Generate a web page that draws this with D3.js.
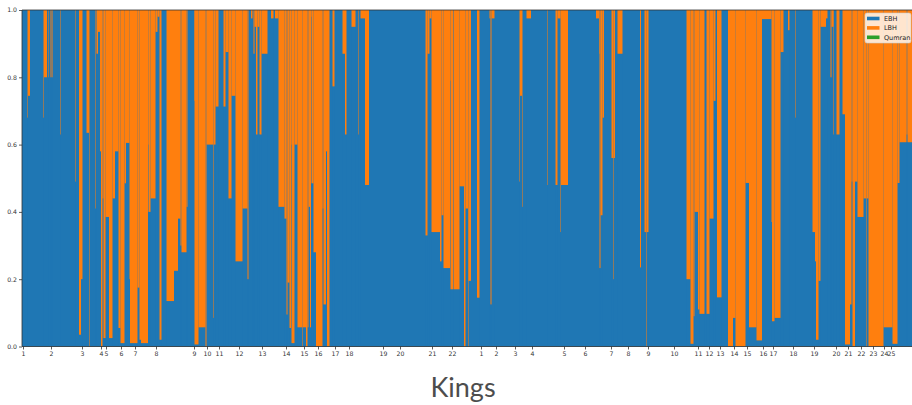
<!DOCTYPE html>
<html>
<head>
<meta charset="utf-8">
<script src="https://cdn.jsdelivr.net/npm/d3@7"></script>
<style>
  body { margin: 0; background: #fff; }
  svg { display: block; }
  .axis text { font-family: "DejaVu Sans", sans-serif; font-size: 6.2px; fill: #333; }
  .axis line { stroke: #333; stroke-width: 0.8; }
  .title { font-family: "Lato", "DejaVu Sans", sans-serif; font-size: 27px; fill: #4d4d4d; }
  .legend text { font-family: "DejaVu Sans", sans-serif; font-size: 6.5px; fill: #222; }
</style>
</head>
<body>
<svg id="chart" width="912" height="405"></svg>
<script>
// segment widths (verse units) along Kings, with the share of each stratum
var widths = [5.5,0.5,2,13,0.5,0.5,3,1,0.5,1.5,0.5,1,1,8,0.5,14,0.5,3.5,
  2,1.5,4,2.5,0.5,5.5,0.5,1,1.5,2,1,1.5,1,2,3.5,3.5,2.5,3.5,2,4,1.5,3.5,
  0.5,7.5,2,1.5,7,0.5,2,5,2,2,2,5,7.5,4,2.5,1,5,1,6.5,0.5,
  4,7,1,7,0.5,1.5,3,5,2,3,3,4,7,5,1,2.5,1.5,1,1,1.5,
  1.5,2,2,6,3.5,2.5,1.5,3.5,6,2,1,2,1.5,0.5,3,3,4.5,0.5,3.5,1.5,
  1,1.5,1,0.5,2,2.5,6.5,1,2.5,1,2.5,3,2,8,2.5,1.5,5,4,2.5,0.5,2,4.5,4,56.5,
  2,2,2,8.5,1.5,2,6.5,0.5,2.5,0.5,6,4.5,1.5,2.5,0.5,2.5,6,2.5,10,1,1,3,25,
  0.5,2,0.5,4,4.5,16,0.5,8,2,3,0.5,7,28,3,0.5,1,2,1.5,7.5,1.5,0.5,1.5,2.5,5,17.5,
  1,3.5,2,0.5,1.5,38,4,3,1,3.5,1.5,5,2,3,4,2,1.5,4.5,6.5,5,2.5,10,3.5,7.5,5.5,9.5,
  0.5,2.5,6,3,4.5,1.5,5.5,0.5,17,2.5,1,2.5,2,5.5,1.5,3,1,2,0.5,2.5,3,3,2.5,5,
  1.5,1,2.5,2.5,6,2.5,0.5,2,15,9,5,2,7,1,4.5];

var ebh = [1,0.68,0.745,1,0.68,1,0.8,1,0.8,1,0.8,1,0.8,1,0.63,1,0.49,1,
  0.035,0.2,1,0.635,0,1,0.41,1,0.87,0.935,0.58,0,0.44,0.025,0.385,0.025,0.44,0.58,0.055,0.01,0.485,0.605,
  0.2,0.01,0.175,0.02,0.01,0.6,0.4,0.44,0.935,0.98,0.02,1,0.135,0.225,0.38,0.3,0.28,0.415,1,0.73,
  0.006,0.057,0,0.6,0.085,0.6,0.713,1,0.713,0.875,0.44,0.745,0.253,0.41,0.2,1,0.975,1,0.87,0.95,
  0.63,0.95,0.63,0.87,1,0.975,1,0.975,0.415,0.38,0.095,0.19,0.055,0.6,0.01,0.6,0.057,0,0.057,0,
  0.057,0.415,0.057,0.98,0.485,0.28,0,0.41,0.125,0.58,0,1,0.773,1,0.87,0.63,1,0.95,1,0.63,1,0.975,0.48,1,
  0.33,0.87,0.975,0.34,0.253,0.39,0.233,0.79,0.17,1,0.17,0.476,0,0.41,0,0.195,1,0.145,1,0.975,0.125,0.975,1,
  0.49,0.745,0.415,1,0.975,1,0.48,1,0.48,0.975,0.34,0.48,1,0.975,0.87,0.233,0.39,0.68,1,0.56,0.2,0.56,1,0.87,1,
  0.235,1,0.34,0,0.34,1,0.2,0.008,0.09,0.4,0.11,0.097,1,0.097,0.38,0.73,1,0.146,1,0,0.085,0,0.486,0.057,0.018,0.973,
  0.37,0.075,0.085,0.875,1,0.94,1,0.68,1,0.34,0.253,0.02,0.195,0.95,0.975,1,0.8,0.95,0.63,1,0.63,1,0.69,0.006,
  0.125,0.49,0,0.49,0.385,0.44,0,0.44,0,0.057,0.008,0.486,0.607,0.63,0.607];

var lbh = [0,0.32,0.255,0,0.32,0,0.2,0,0.2,0,0.2,0,0.2,0,0.37,0,0.51,0,
  0.965,0.8,0,0.365,1,0,0.59,0,0.13,0.065,0.42,1,0.56,0.975,0.615,0.975,0.56,0.42,0.945,0.99,0.515,0.395,
  0.8,0.99,0.825,0.98,0.99,0.4,0.6,0.56,0.065,0.02,0.98,0,0.865,0.775,0.62,0.7,0.72,0.585,0,0.27,
  0.994,0.943,1,0.4,0.915,0.4,0.287,0,0.287,0.125,0.56,0.255,0.747,0.59,0.8,0,0.025,0,0.13,0.05,
  0.37,0.05,0.37,0.13,0,0.025,0,0.025,0.585,0.62,0.905,0.81,0.945,0.4,0.99,0.4,0.943,1,0.943,1,
  0.943,0.585,0.943,0.02,0.515,0.72,1,0.59,0.875,0.42,1,0,0.227,0,0.13,0.37,0,0.05,0,0.37,0,0.025,0.52,0,
  0.67,0.13,0.025,0.66,0.747,0.61,0.767,0.21,0.83,0,0.83,0.524,1,0.59,1,0.805,0,0.855,0,0.025,0.875,0.025,0,
  0.51,0.255,0.585,0,0.025,0,0.52,0,0.52,0.025,0.66,0.52,0,0.025,0.13,0.767,0.61,0.32,0,0.44,0.8,0.44,0,0.13,0,
  0.765,0,0.66,1,0.66,0,0.8,0.992,0.91,0.6,0.89,0.903,0,0.903,0.62,0.27,0,0.854,0,1,0.915,1,0.514,0.943,0.982,0.027,
  0.63,0.925,0.915,0.125,0,0.06,0,0.32,0,0.66,0.747,0.98,0.805,0.05,0.025,0,0.2,0.05,0.37,0,0.37,0,0.31,0.994,
  0.875,0.51,1,0.51,0.615,0.56,1,0.56,1,0.943,0.992,0.514,0.393,0.37,0.393];

var seriesNames = ["EBH", "LBH", "Qumran"];
var seriesColors = ["#1f77b4", "#ff7f0e", "#2ca02c"];

// chapter starts (verse units) and their labels: 1 Kings 1-22, 2 Kings 1-25
var tickPos = [1,29,60,79,84,99,113,134,172,185,197,217,240,264,282,296,313,327,361,378,410,430,
  459,474,493,510,542,563,589,606,626,652,676,687,698,712,725,741,751,771,792,814,826,839,851,862,869];
var tickLabels = ["1","2","3","4","5","6","7","8","9","10","11","12","13","14","15","16","17","18","19","20","21","22",
  "1","2","3","4","5","6","7","8","9","10","11","12","13","14","15","16","17","18","19","20","21","22","23","24","25"];

var margin = {left: 22, top: 10, right: 0, bottom: 58};
var width = 912, height = 405;
var svg = d3.select("#chart");

// build bar rows with running start positions
var start = 0;
var bars = widths.map(function(w, i) {
  var b = {x0: start, w: w, ebh: ebh[i], lbh: lbh[i]};
  start += w;
  return b;
});

var x = d3.scaleLinear()
  .domain([0, d3.sum(widths)])
  .range([margin.left, width - margin.right]);
var y = d3.scaleLinear()
  .domain([0, 1])
  .range([height - margin.bottom - 0.5, margin.top]);

var plot = svg.append("g");

// underlay hides hairline seams between neighbouring bars
plot.append("rect")
  .attr("x", x(0)).attr("y", y(1))
  .attr("width", x.range()[1] - x(0)).attr("height", y(0) - y(1))
  .attr("fill", seriesColors[0]);

plot.selectAll("rect.ebh")
  .data(bars)
  .enter().append("rect")
  .attr("class", "ebh")
  .attr("x", function(d) { return x(d.x0); })
  .attr("width", function(d) { return x(d.x0 + d.w) - x(d.x0); })
  .attr("y", function(d) { return y(d.ebh); })
  .attr("height", function(d) { return y(0) - y(d.ebh); })
  .attr("fill", seriesColors[0]);

plot.selectAll("rect.lbh")
  .data(bars.filter(function(d) { return d.lbh > 0; }))
  .enter().append("rect")
  .attr("class", "lbh")
  .attr("x", function(d) { return x(d.x0); })
  .attr("width", function(d) { return x(d.x0 + d.w) - x(d.x0); })
  .attr("y", function(d) { return y(d.ebh + d.lbh); })
  .attr("height", function(d) { return y(d.ebh) - y(d.ebh + d.lbh); })
  .attr("fill", seriesColors[1]);

// frame
svg.append("path")
  .attr("d", "M" + x(0) + "," + y(1) + "H" + width + "M" + x(0) + "," + y(1) + "V" + y(0) + "H" + width)
  .attr("fill", "none")
  .attr("stroke", "#333")
  .attr("stroke-width", 0.8);

var xAxis = svg.append("g")
  .attr("class", "axis")
  .attr("transform", "translate(0," + y(0) + ")")
  .call(d3.axisBottom(x).tickValues(tickPos)
    .tickFormat(function(d, i) { return tickLabels[i]; })
    .tickSize(3).tickPadding(2));
xAxis.select(".domain").remove();

var yAxis = svg.append("g")
  .attr("class", "axis")
  .attr("transform", "translate(" + x(0) + ",0)")
  .call(d3.axisLeft(y).tickValues([0, 0.2, 0.4, 0.6, 0.8, 1])
    .tickFormat(d3.format(".1f"))
    .tickSize(3).tickPadding(2));
yAxis.select(".domain").remove();

// legend
var legend = svg.append("g").attr("class", "legend");
legend.append("rect")
  .attr("x", 865).attr("y", 13).attr("width", 46).attr("height", 30).attr("rx", 2)
  .attr("fill", "#fff").attr("fill-opacity", 0.8)
  .attr("stroke", "#ccc").attr("stroke-width", 0.6);
var item = legend.selectAll("g.item")
  .data(seriesNames)
  .enter().append("g")
  .attr("class", "item")
  .attr("transform", function(d, i) { return "translate(867," + (18.5 + i * 9.4) + ")"; });
item.append("rect")
  .attr("x", 0).attr("y", -1.8).attr("width", 12.5).attr("height", 3.6)
  .attr("fill", function(d, i) { return seriesColors[i]; });
item.append("text")
  .attr("x", 17).attr("dy", "0.35em")
  .text(function(d) { return d; });

svg.append("text")
  .attr("class", "title")
  .attr("x", 463).attr("y", 397)
  .attr("text-anchor", "middle")
  .text("Kings");
</script>
</body>
</html>
